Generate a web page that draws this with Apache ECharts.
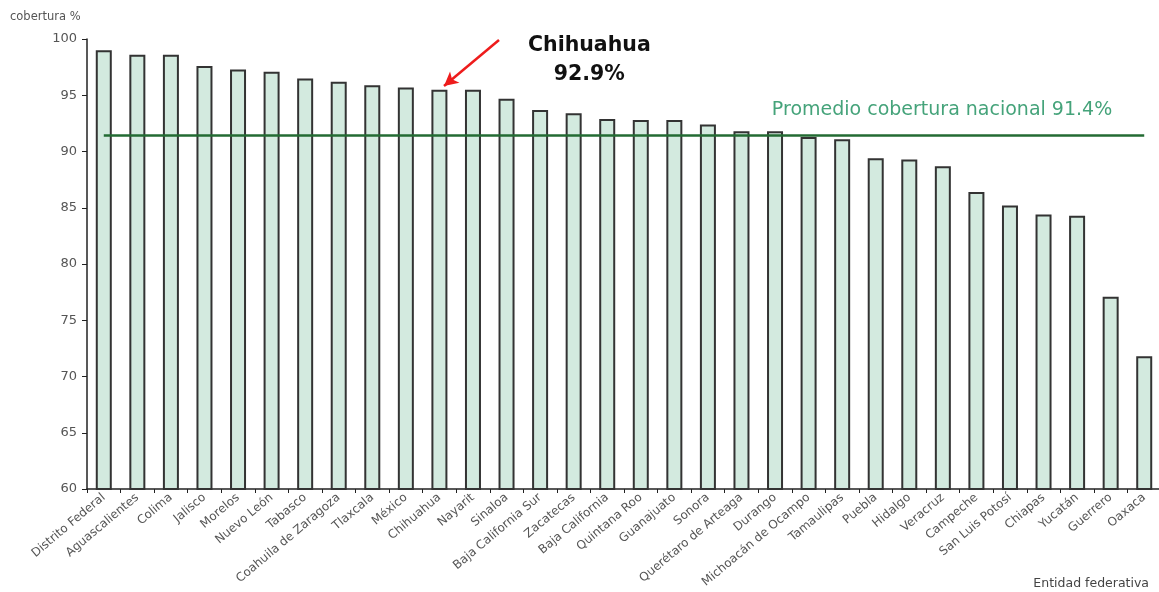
<!DOCTYPE html>
<html lang="es">
<head>
    <meta charset="UTF-8">
    <title>Cobertura por entidad federativa</title>
    <script src="https://cdn.jsdelivr.net/npm/echarts@6/dist/echarts.min.js"></script>
    <style>
        html,body{margin:0;padding:0;background:#fff;}
        #main{width:1159px;height:592px;}
    </style>
</head>
<body>
<div id="main"></div>
<script>
    var estados = ['Distrito Federal','Aguascalientes','Colima','Jalisco','Morelos','Nuevo León','Tabasco',
        'Coahuila de Zaragoza','Tlaxcala','México','Chihuahua','Nayarit','Sinaloa','Baja California Sur',
        'Zacatecas','Baja California','Quintana Roo','Guanajuato','Sonora','Querétaro de Arteaga','Durango',
        'Michoacán de Ocampo','Tamaulipas','Puebla','Hidalgo','Veracruz','Campeche','San Luis Potosí',
        'Chiapas','Yucatán','Guerrero','Oaxaca'];
    var cobertura = [99.0,98.6,98.6,97.6,97.3,97.1,96.5,96.2,95.9,95.7,95.5,95.5,94.7,93.7,93.4,92.9,
        92.8,92.8,92.4,91.8,91.8,91.3,91.1,89.4,89.3,88.7,86.4,85.2,84.4,84.3,77.1,71.8];
    var promedio = 91.4;
    var destacado = 'Chihuahua';
    var destacadoValor = '92.9%';

    var font = 'DejaVu Sans';
    var myChart = echarts.init(document.getElementById('main'));
    var option = {
        animation:false,
        textStyle:{fontFamily:font},
        grid:{left:87,right:-2,top:39,bottom:103,containLabel:false,outerBoundsMode:'none'},
        xAxis:{
            type:'category',
            data:estados,
            name:'Entidad federativa',
            nameLocation:'end',
            nameGap:0,
            nameTextStyle:{color:'#444',fontSize:12.5,align:'right',verticalAlign:'top',padding:[88,12,0,0]},
            axisLine:{lineStyle:{color:'#222',width:1.5}},
            axisTick:{show:true,alignWithLabel:false,lineStyle:{color:'#222'},length:4},
            axisLabel:{rotate:40,interval:0,color:'#555',fontSize:12,margin:7}
        },
        yAxis:{
            type:'value',
            min:60,max:100,interval:5,
            name:'cobertura %',
            nameLocation:'end',
            nameGap:16,
            nameTextStyle:{color:'#555',fontSize:11.5,align:'left',padding:[0,0,0,-77]},
            axisLine:{show:true,lineStyle:{color:'#222',width:1.5}},
            axisTick:{show:true,inside:false,length:5,lineStyle:{color:'#222'}},
            axisLabel:{color:'#555',fontSize:13,margin:10},
            splitLine:{show:false}
        },
        series:[{
            type:'bar',
            data:cobertura,
            barWidth:16,
            itemStyle:{color:'#d3eadf',borderColor:'#333',borderWidth:2},
            markLine:{
                silent:true,
                symbol:'none',
                data:[
                    [{coord:[estados[0],promedio],
                        lineStyle:{color:'#236b33',width:2.5,type:'solid'},
                        label:{show:true,position:'insideEndTop',distance:[32,16],
                            formatter:'Promedio cobertura nacional ' + promedio + '%',
                            color:'#45a37a',fontSize:19,fontFamily:font}},
                     {coord:[estados[estados.length-1],promedio]}],
                    [{x:499,y:40,symbol:'none',
                        lineStyle:{color:'#ee1c1c',width:2.5,type:'solid'},
                        label:{show:false}},
                     {x:444,y:86,symbol:'arrow',symbolSize:[11,14]}]
                ]
            }
        }],
        graphic:[{
            type:'text',
            left:528,top:31,
            style:{text:destacado + '\n' + destacadoValor,fill:'#111',font:'bold 20.5px ' + font,
                align:'center',lineHeight:29,textAlign:'center'}
        }]
    };
    myChart.setOption(option);
</script>
</body>
</html>
